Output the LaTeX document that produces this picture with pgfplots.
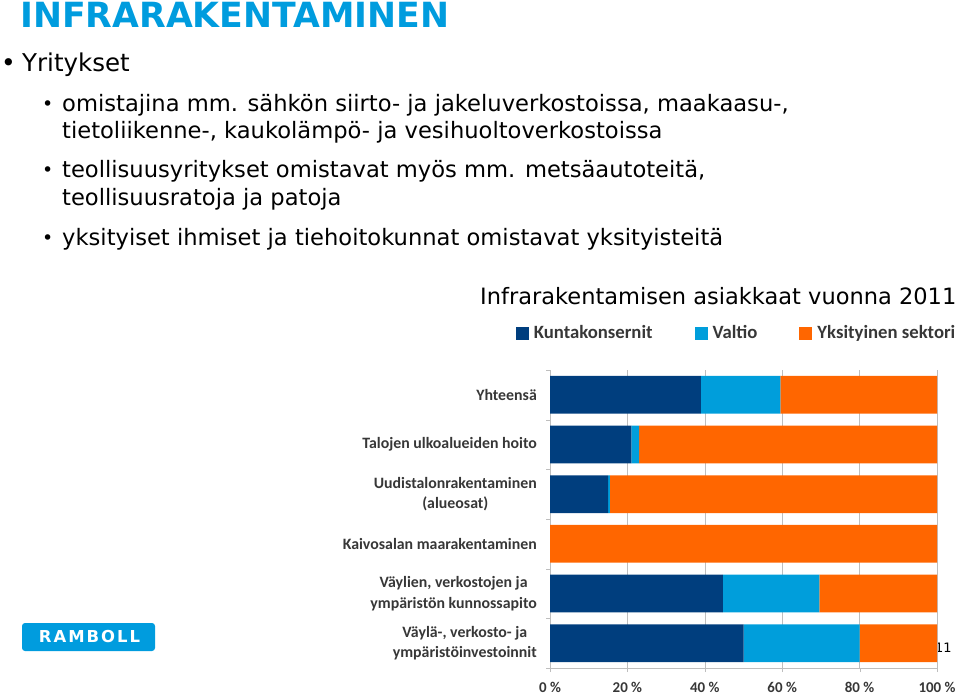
\documentclass[border=0pt]{standalone}
\usepackage{pgfplots}
\pgfplotsset{compat=1.18}
\usepackage{fontspec}
\setmainfont{DejaVu Sans}
\newfontfamily\chartfont{Carlito}
\newfontfamily\logofont[LetterSpace=12]{DejaVu Sans}
\definecolor{dkblue}{RGB}{0,62,126}
\definecolor{ltblue}{RGB}{0,158,219}
\definecolor{orng}{RGB}{255,102,0}
\definecolor{ttl}{RGB}{0,156,222}
\definecolor{lbl}{RGB}{55,55,55}
\definecolor{gridc}{RGB}{190,190,190}
\pgfplotstableread{
y  kunta valtio yksit
0  50    30     20
1  44.7  24.9   30.4
2  0     0      100
3  15    0.5    84.5
4  21    2      77
5  39    20.5   40.5
}\datatable
\begin{document}
\begin{tikzpicture}[x=1bp,y=1bp]
\path[use as bounding box] (0,0) rectangle (960,-699);
\coordinate (axpos) at (550,-668);
% slide text
\node[anchor=base west,inner sep=0,text=ttl,font=\bfseries\fontsize{34.8}{40}\selectfont] at (20,-28) {INFRARAKENTAMINEN};
\node[anchor=base west,inner sep=0,font=\fontsize{25}{28}\selectfont] at (1,-72) {•};
\node[anchor=base west,inner sep=0,font=\fontsize{24.6}{28}\selectfont] at (22,-72) {Yritykset};
\begin{scope}[every node/.style={anchor=base west,inner sep=0,font=\fontsize{22.7}{26}\selectfont}]
\node at (42,-111) {\fontsize{19}{26}\selectfont •};
\node at (62,-112) {omistajina mm. sähkön siirto- ja jakeluverkostoissa, maakaasu-,};
\node at (62,-139) {tietoliikenne-, kaukolämpö- ja vesihuoltoverkostoissa};
\node at (42,-177) {\fontsize{19}{26}\selectfont •};
\node at (62,-178) {teollisuusyritykset omistavat myös mm. metsäautoteitä,};
\node at (62,-205) {teollisuusratoja ja patoja};
\node at (42,-244) {\fontsize{19}{26}\selectfont •};
\node at (62,-245) {yksityiset ihmiset ja tiehoitokunnat omistavat yksityisteitä};
\end{scope}
\node[anchor=base west,inner sep=0,font=\fontsize{22.6}{26}\selectfont] at (480,-304) {Infrarakentamisen asiakkaat vuonna 2011};
% logo
\fill[ttl,rounded corners=3bp] (22,-623) rectangle (155,-651);
\node[anchor=center,inner sep=0,text=white,font=\logofont\bfseries\fontsize{16.5}{18}\selectfont] at (89.5,-637) {RAMBOLL};
% page number
\node[anchor=base west,inner sep=0,font=\fontsize{13}{15}\selectfont] at (935,-652) {11};
% chart
\begin{axis}[
  at={(axpos)}, anchor=south west,
  scale only axis, width=387bp, height=298bp,
  xbar stacked, bar width=0.76,
  xmin=0, xmax=100, ymin=-0.5, ymax=5.5,
  xtick={0,20,40,60,80,100},
  xticklabels={0 \%,20 \%,40 \%,60 \%,80 \%,100 \%},
  ytick={0,1,2,3,4,5},
  yticklabels={{Väylä-, verkosto- ja\\ympäristöinvestoinnit},{Väylien, verkostojen ja\\ympäristön kunnossapito},{Kaivosalan maarakentaminen},{Uudistalonrakentaminen\\(alueosat)},{Talojen ulkoalueiden hoito},{Yhteensä}},
  yticklabel style={align=center,font=\chartfont\bfseries\fontsize{15.9}{21}\selectfont,text=lbl,inner xsep=9bp},
  xticklabel style={font=\chartfont\bfseries\fontsize{15}{18}\selectfont,text=lbl,yshift=-7bp},
  minor ytick={-0.5,0.5,1.5,2.5,3.5,4.5,5.5},
  major y tick style={draw=none},
  minor y tick style={draw=gridc},
  x tick style={draw=gridc},
  tick align=outside, major tick length=4bp, minor tick length=4bp,
  xmajorgrids, grid style={gridc},
  axis x line*=bottom, axis y line*=left,
  axis line style={gridc},
  legend columns=3,
  legend style={at={(0.482,1.124)},anchor=center,draw=none,fill=none,
    font=\chartfont\bfseries\fontsize{18.8}{22}\selectfont,text=lbl,
    /tikz/every odd column/.append style={column sep=3bp},
    /tikz/every even column/.append style={column sep=40bp}},
  legend image code/.code={\fill[#1] (0bp,-6.5bp) rectangle (13bp,6.5bp);},
]
\addplot[fill=dkblue,draw=none] table[x=kunta,y=y] {\datatable};
\addplot[fill=ltblue,draw=none] table[x=valtio,y=y] {\datatable};
\addplot[fill=orng,draw=none] table[x=yksit,y=y] {\datatable};
\legend{Kuntakonsernit,Valtio,Yksityinen sektori}
\end{axis}
\end{tikzpicture}
\end{document}
